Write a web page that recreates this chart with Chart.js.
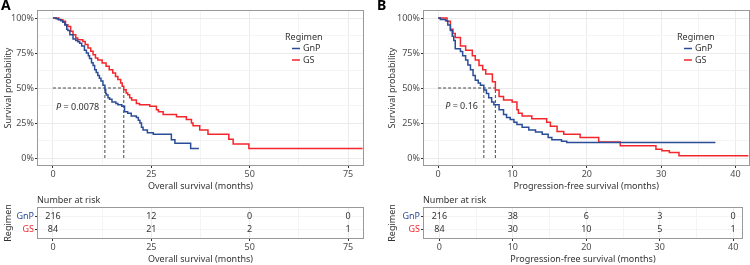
<!DOCTYPE html>
<html>
<head>
<meta charset="utf-8">
<script src="https://cdn.jsdelivr.net/npm/chart.js@4.4.1/dist/chart.umd.min.js"></script>
<style>
  html, body { margin: 0; padding: 0; background: #fff; }
  #wrap { position: relative; width: 750px; height: 265px; }
  canvas { position: absolute; }
</style>
</head>
<body>
<div id="wrap">
  <canvas id="osMain" width="375" height="195" style="left:0;top:0"></canvas>
  <canvas id="osRisk" width="375" height="70" style="left:0;top:195px"></canvas>
  <canvas id="pfsMain" width="375" height="195" style="left:375px;top:0"></canvas>
  <canvas id="pfsRisk" width="375" height="70" style="left:375px;top:195px"></canvas>
</div>
<script>
// Groups
const groups = ["GnP", "GS"];
const groupColors = ["#2B4C97", "#F2262B"];

// Overall survival curves (months, survival probability)
const osTimeGnP = [0, 0.8, 1.3, 2.0, 2.5, 3.0, 3.5, 3.8, 4.3, 5.1, 5.8, 6.3, 6.8, 7.3, 8.0, 8.5, 9.0, 9.3, 9.8, 10.2, 10.6, 11.0, 11.4, 11.8, 12.2, 12.7, 13.2, 13.4, 13.6, 14.0, 14.4, 15.0, 16.0, 16.5, 17.5, 18.2, 19.0, 19.9, 21.2, 21.7, 22.1, 22.5, 22.9, 24.0, 25.5, 30.1, 31.0, 35.0, 37.1];
const osSurvGnP = [1, 0.995, 0.99, 0.98, 0.97, 0.95, 0.92, 0.91, 0.88, 0.85, 0.84, 0.83, 0.82, 0.80, 0.77, 0.75, 0.73, 0.71, 0.68, 0.66, 0.63, 0.61, 0.59, 0.57, 0.55, 0.52, 0.49, 0.46, 0.45, 0.43, 0.42, 0.40, 0.39, 0.38, 0.37, 0.33, 0.32, 0.30, 0.29, 0.27, 0.25, 0.22, 0.20, 0.18, 0.17, 0.13, 0.106, 0.068, 0.068];
const osTimeGS = [0, 1.5, 2.5, 3.2, 3.8, 4.5, 5.1, 5.8, 6.3, 7.6, 8.2, 8.9, 9.6, 10.2, 10.8, 11.4, 12.5, 13.5, 14.3, 15.2, 15.9, 16.5, 17.2, 17.6, 18.0, 18.6, 19.0, 19.5, 20.0, 21.2, 22.0, 24.6, 26.3, 26.8, 28.0, 31.4, 33.9, 35.2, 35.6, 37.3, 39.4, 44.7, 45.8, 49.8, 78.7];
const osSurvGS = [1, 0.988, 0.976, 0.952, 0.94, 0.905, 0.881, 0.857, 0.845, 0.833, 0.81, 0.786, 0.762, 0.738, 0.714, 0.70, 0.679, 0.655, 0.631, 0.607, 0.583, 0.56, 0.536, 0.512, 0.488, 0.464, 0.452, 0.43, 0.415, 0.39, 0.38, 0.37, 0.345, 0.33, 0.31, 0.295, 0.275, 0.25, 0.23, 0.20, 0.17, 0.134, 0.10, 0.068, 0.068];

// Progression-free survival curves
const pfsTimeGnP = [0, 0.3, 1.0, 1.3, 1.65, 1.9, 2.1, 2.3, 3.0, 3.3, 3.7, 4.0, 4.35, 4.7, 5.0, 5.4, 5.7, 6.15, 6.5, 6.8, 7.2, 7.5, 8.2, 8.8, 9.2, 9.7, 10.2, 10.6, 11.3, 12.2, 13.1, 14.0, 14.8, 15.3, 16.6, 17.3, 37.3];
const pfsSurvGnP = [1, 0.99, 0.98, 0.95, 0.91, 0.87, 0.84, 0.78, 0.76, 0.73, 0.70, 0.665, 0.63, 0.59, 0.556, 0.535, 0.52, 0.486, 0.46, 0.43, 0.40, 0.38, 0.345, 0.31, 0.29, 0.275, 0.255, 0.24, 0.22, 0.20, 0.185, 0.17, 0.146, 0.13, 0.12, 0.11, 0.11];
const pfsTimeGS = [0, 1.2, 1.65, 2.0, 2.3, 3.0, 3.7, 4.6, 5.0, 5.5, 6.0, 6.4, 7.3, 7.7, 8.2, 8.8, 9.96, 10.6, 10.8, 11.3, 12.6, 14.6, 15.1, 16.0, 16.9, 19.1, 21.6, 24.5, 29.3, 30.1, 31.1, 32.4, 41.8];
const pfsSurvGS = [1, 0.976, 0.92, 0.89, 0.86, 0.80, 0.77, 0.73, 0.70, 0.66, 0.63, 0.60, 0.545, 0.486, 0.44, 0.415, 0.40, 0.345, 0.32, 0.30, 0.28, 0.256, 0.227, 0.19, 0.17, 0.146, 0.115, 0.087, 0.063, 0.051, 0.04, 0.016, 0.016];

// Medians (GnP, GS) and p values
const osMedians = [13.2, 18.0];
const pfsMedians = [6.15, 7.7];
const osPValue = "0.0078";
const pfsPValue = "0.16";

// Axis ticks
const osTicks = [0, 25, 50, 75];
const osMinorTicks = [12.5, 37.5, 62.5];
const pfsTicks = [0, 10, 20, 30, 40];
const pfsMinorTicks = [5, 15, 25, 35];
const survTicks = [0, 0.25, 0.5, 0.75, 1];
const survMinorTicks = [0.125, 0.375, 0.625, 0.875];

// Number at risk
const osRiskGnP = [216, 12, 0, 0];
const osRiskGS = [84, 21, 2, 1];
const pfsRiskGnP = [216, 38, 6, 3, 0];
const pfsRiskGS = [84, 30, 10, 5, 1];

Chart.defaults.font.family = "'Noto Sans', sans-serif";
Chart.defaults.font.size = 9;
Chart.defaults.color = "#4D4D4D";

const GRID = "#EBEBEB";
const GRID_MINOR = "#F4F4F4";
const FRAME = "#999999";

function pts(xs, ys) {
    return xs.map((x, i) => ({ x: x, y: ys[i] }));
}

function allTicks(major, minor) {
    return major.concat(minor).sort((a, b) => a - b).map(v => ({ value: v }));
}

// Panel border
const framePlugin = {
    id: "frame",
    afterDraw(chart) {
        const a = chart.chartArea, c = chart.ctx;
        c.save();
        c.strokeStyle = FRAME;
        c.lineWidth = 1;
        c.strokeRect(Math.round(a.left) - 0.5, Math.round(a.top) - 0.5, Math.round(a.right - a.left) + 1, Math.round(a.bottom - a.top) + 1);
        c.restore();
    }
};

// Legend inside the plot
const kmLegendPlugin = {
    id: "kmLegend",
    afterDraw(chart, args, opts) {
        if (!opts.show) return;
        const c = chart.ctx;
        c.save();
        c.font = "9px 'Noto Sans', sans-serif";
        c.textBaseline = "middle";
        c.fillStyle = "#333";
        c.fillText("Regimen", opts.x, opts.y);
        chart.data.datasets.slice(0, 2).forEach((ds, i) => {
            const y = opts.y + 11.5 * (i + 1);
            c.strokeStyle = ds.borderColor;
            c.lineWidth = 1.5;
            c.beginPath();
            c.moveTo(opts.x + 7, y);
            c.lineTo(opts.x + 15, y);
            c.stroke();
            c.fillStyle = "#333";
            c.fillText(ds.label, opts.x + 18, y);
        });
        c.restore();
    }
};

// P value text and panel tag
const annotatePlugin = {
    id: "annotate",
    afterDraw(chart, args, opts) {
        if (!opts.show) return;
        const c = chart.ctx;
        const x = chart.scales.x.getPixelForValue(opts.px);
        const y = chart.scales.y.getPixelForValue(opts.py);
        c.save();
        c.textBaseline = "middle";
        c.fillStyle = "#333";
        c.font = "italic 9px 'Noto Sans', sans-serif";
        c.fillText("P", x, y);
        const w = c.measureText("P").width;
        c.font = "9px 'Noto Sans', sans-serif";
        c.fillText(" = " + opts.p, x + w, y);
        c.font = "bold 14px 'Noto Sans', sans-serif";
        c.textBaseline = "top";
        c.fillStyle = "#000";
        c.fillText(opts.tag, opts.tagX, -1);
        c.restore();
    }
};

// Number-at-risk labels
const riskLabelPlugin = {
    id: "riskLabels",
    afterDatasetsDraw(chart, args, opts) {
        if (!opts.show) return;
        const c = chart.ctx;
        c.save();
        c.font = "9px 'Noto Sans', sans-serif";
        c.fillStyle = "#333";
        c.textAlign = "center";
        c.textBaseline = "middle";
        chart.data.datasets.forEach((ds, di) => {
            chart.getDatasetMeta(di).data.forEach((el, i) => {
                c.fillText(String(ds.counts[i]), el.x, el.y);
            });
        });
        c.textAlign = "left";
        c.fillText("Number at risk", chart.chartArea.left - 1, chart.chartArea.top - 8);
        c.restore();
    }
};

function xScale(cfg, withTitle) {
    return {
        type: "linear",
        min: cfg.xMin,
        max: cfg.xMax,
        afterBuildTicks: s => { s.ticks = allTicks(cfg.ticks, cfg.minor); },
        afterFit: s => { s.height = cfg.xHeight; },
        ticks: {
            autoSkip: false, maxRotation: 0, padding: 1,
            callback: v => cfg.ticks.includes(v) ? String(v) : ""
        },
        grid: {
            color: c => cfg.ticks.includes(c.tick.value) ? GRID : GRID_MINOR,
            tickColor: c => cfg.ticks.includes(c.tick.value) ? "#333" : "rgba(0,0,0,0)",
            tickLength: 3
        },
        border: { display: false },
        title: { display: withTitle, text: cfg.xTitle, color: "#333", padding: { top: 0, bottom: cfg.xTitlePad } }
    };
}

function mainChart(id, cfg) {
    const half = 0.5;
    new Chart(document.getElementById(id), {
        type: "line",
        data: {
            datasets: [
                { label: groups[0], data: pts(cfg.tGnP, cfg.sGnP), borderColor: groupColors[0], borderWidth: 1.5, pointRadius: 0, stepped: true },
                { label: groups[1], data: pts(cfg.tGS, cfg.sGS), borderColor: groupColors[1], borderWidth: 1.5, pointRadius: 0, stepped: true },
                { label: "h", data: [{ x: 0, y: half }, { x: Math.max(...cfg.medians), y: half }], borderColor: "#333", borderWidth: 0.9, borderDash: [3, 2], pointRadius: 0 },
                { label: "v1", data: [{ x: cfg.medians[0], y: 0 }, { x: cfg.medians[0], y: half }], borderColor: "#333", borderWidth: 0.9, borderDash: [3, 2], pointRadius: 0 },
                { label: "v2", data: [{ x: cfg.medians[1], y: 0 }, { x: cfg.medians[1], y: half }], borderColor: "#333", borderWidth: 0.9, borderDash: [3, 2], pointRadius: 0 }
            ]
        },
        options: {
            responsive: false, animation: false, events: [],
            layout: { padding: { left: cfg.padLeft, right: cfg.padRight, top: 11, bottom: 0 } },
            plugins: {
                legend: { display: false }, tooltip: { enabled: false },
                kmLegend: { show: true, x: cfg.legendX, y: 37 },
                annotate: { show: true, px: cfg.pX, py: cfg.pY, p: cfg.p, tag: cfg.tag, tagX: cfg.tagX },
                riskLabels: { show: false }
            },
            scales: {
                x: xScale(Object.assign({}, cfg, { xHeight: 30, xTitlePad: 3 }), true),
                y: {
                    type: "linear", min: -0.05, max: 1.05,
                    afterBuildTicks: s => { s.ticks = allTicks(survTicks, survMinorTicks); },
                    afterFit: s => { s.width = cfg.yWidth; },
                    ticks: {
                        autoSkip: false, padding: 1,
                        callback: v => survTicks.includes(v) ? Math.round(v * 100) + "%" : ""
                    },
                    grid: {
                        color: c => survTicks.includes(c.tick.value) ? GRID : GRID_MINOR,
                        tickColor: c => survTicks.includes(c.tick.value) ? "#333" : "rgba(0,0,0,0)",
                        tickLength: 3
                    },
                    border: { display: false },
                    title: { display: true, text: "Survival probability", color: "#333", padding: { top: 3, bottom: 0 } }
                }
            }
        },
        plugins: [framePlugin, kmLegendPlugin, annotatePlugin, riskLabelPlugin]
    });
}

function riskChart(id, cfg) {
    new Chart(document.getElementById(id), {
        type: "scatter",
        data: {
            datasets: [
                { label: groups[0], data: cfg.ticks.map(t => ({ x: t, y: 1 })), counts: cfg.riskGnP, pointRadius: 0 },
                { label: groups[1], data: cfg.ticks.map(t => ({ x: t, y: 2 })), counts: cfg.riskGS, pointRadius: 0 }
            ]
        },
        options: {
            responsive: false, animation: false, events: [],
            layout: { padding: { left: cfg.padLeft, right: cfg.riskPadRight, top: 13, bottom: 0 } },
            plugins: {
                legend: { display: false }, tooltip: { enabled: false },
                kmLegend: { show: false }, annotate: { show: false },
                riskLabels: { show: true }
            },
            scales: {
                x: xScale(Object.assign({}, cfg, { xMin: cfg.rxMin, xMax: cfg.rxMax, xHeight: 27, xTitlePad: 0 }), true),
                y: {
                    type: "linear", min: 0.4, max: 2.6, reverse: true,
                    afterBuildTicks: s => { s.ticks = [{ value: 1 }, { value: 2 }]; },
                    afterFit: s => { s.width = cfg.yWidth; },
                    ticks: {
                        autoSkip: false, padding: 1,
                        callback: v => groups[v - 1],
                        color: c => groupColors[c.index]
                    },
                    grid: { color: GRID_MINOR, tickColor: "#333", tickLength: 3 },
                    border: { display: false },
                    title: { display: true, text: "Regimen", color: "#333", padding: { top: 3, bottom: 0 } }
                }
            }
        },
        plugins: [framePlugin, kmLegendPlugin, annotatePlugin, riskLabelPlugin]
    });
}

const osCfg = {
    tGnP: osTimeGnP, sGnP: osSurvGnP, tGS: osTimeGS, sGS: osSurvGS,
    medians: osMedians, p: osPValue, pX: 0.8, pY: 0.36, tag: "A", tagX: 1,
    ticks: osTicks, minor: osMinorTicks, xMin: -3.8, xMax: 78.8, rxMin: -3.8, rxMax: 78.8,
    xTitle: "Overall survival (months)",
    riskGnP: osRiskGnP, riskGS: osRiskGS,
    padLeft: 0, padRight: 12, riskPadRight: 12, yWidth: 38, legendX: 285
};

const pfsCfg = {
    tGnP: pfsTimeGnP, sGnP: pfsSurvGnP, tGS: pfsTimeGS, sGS: pfsSurvGS,
    medians: pfsMedians, p: pfsPValue, pX: 0.95, pY: 0.365, tag: "B", tagX: 2,
    ticks: pfsTicks, minor: pfsMinorTicks, xMin: -1.9, xMax: 41.75, rxMin: -2.1, rxMax: 41.2,
    xTitle: "Progression-free survival (months)",
    riskGnP: pfsRiskGnP, riskGS: pfsRiskGS,
    padLeft: 9, padRight: 1.5, riskPadRight: 8, yWidth: 40, legendX: 302
};

mainChart("osMain", osCfg);
riskChart("osRisk", osCfg);
mainChart("pfsMain", pfsCfg);
riskChart("pfsRisk", pfsCfg);
</script>
</body>
</html>
